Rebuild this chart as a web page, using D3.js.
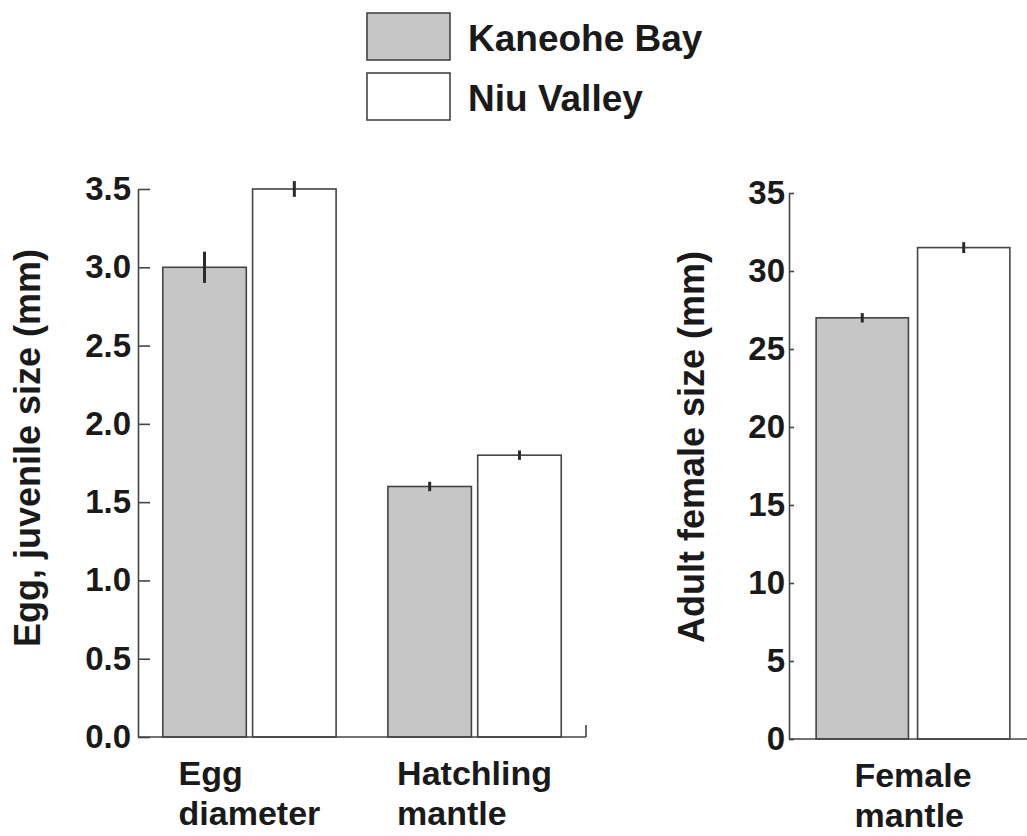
<!DOCTYPE html>
<html>
<head>
<meta charset="utf-8">
<script src="https://cdn.jsdelivr.net/npm/d3@7"></script>
<style>
  body { margin: 0; background: #fff; }
  text { font-family: "Liberation Sans", Arial, sans-serif; font-weight: bold; fill: #1a1a1a; }
</style>
</head>
<body>
<script>
// data
var sites = ["Kaneohe Bay", "Niu Valley"];
var siteFill = ["#c6c6c6", "#ffffff"];

var leftGroups = [["Egg", "diameter"], ["Hatchling", "mantle"]];
var leftKaneohe = [3.0, 1.6];
var leftNiu = [3.5, 1.8];
var leftKaneoheErr = [0.1, 0.03];
var leftNiuErr = [0.05, 0.03];
var leftTicks = [0, 0.5, 1.0, 1.5, 2.0, 2.5, 3.0, 3.5];

var rightGroups = [["Female", "mantle"]];
var rightKaneohe = [27.0];
var rightNiu = [31.5];
var rightKaneoheErr = [0.3];
var rightNiuErr = [0.35];
var rightTicks = [0, 5, 10, 15, 20, 25, 30, 35];

var W = 1027, H = 836;
var svg = d3.select("body").append("svg").attr("width", W).attr("height", H);

function rows(groups, a, b, ea, eb) {
  return groups.map(function (g, i) {
    return { name: g.join(" "), lines: g, vals: [
      { site: 0, v: a[i], e: ea[i] },
      { site: 1, v: b[i], e: eb[i] }
    ] };
  });
}

function panel(opt) {
  var g = svg.append("g");
  var y = d3.scaleLinear().domain(opt.domain).range(opt.yRange);
  var x = d3.scaleBand().domain(opt.data.map(function (d) { return d.name; }))
    .range(opt.xRange).paddingInner(opt.pi).paddingOuter(opt.po);
  var xs = d3.scaleBand().domain([0, 1]).range([0, x.bandwidth()]).paddingInner(opt.sub);

  // bars
  var grp = g.selectAll(".grp").data(opt.data).enter().append("g")
    .attr("transform", function (d) { return "translate(" + x(d.name) + ",0)"; });
  grp.selectAll("rect").data(function (d) { return d.vals; }).enter().append("rect")
    .attr("x", function (d) { return xs(d.site); })
    .attr("y", function (d) { return y(d.v); })
    .attr("width", xs.bandwidth())
    .attr("height", function (d) { return y(0) - y(d.v); })
    .attr("fill", function (d) { return siteFill[d.site]; })
    .attr("stroke", "#444").attr("stroke-width", 1.6);
  grp.selectAll("line.err").data(function (d) { return d.vals; }).enter().append("line")
    .attr("class", "err")
    .attr("x1", function (d) { return xs(d.site) + xs.bandwidth() / 2; })
    .attr("x2", function (d) { return xs(d.site) + xs.bandwidth() / 2; })
    .attr("y1", function (d) { return y(d.v + d.e); })
    .attr("y2", function (d) { return y(d.v - d.e); })
    .attr("stroke", "#2a2a2a").attr("stroke-width", 3);

  // y axis
  var ax = g.append("g").attr("transform", "translate(" + opt.xRange[0] + ",0)")
    .call(d3.axisLeft(y).tickValues(opt.ticks).tickFormat(opt.fmt)
      .tickSizeInner(-opt.tick).tickSizeOuter(0).tickPadding(opt.pad));
  ax.selectAll("path, line").attr("stroke", "#444").attr("stroke-width", 1.6);
  ax.selectAll("text").style("font-size", "33px").attr("fill", "#1a1a1a")
    .style("font-family", "'Liberation Sans', Arial, sans-serif").style("font-weight", "bold");

  // baseline
  g.append("line").attr("x1", opt.xRange[0]).attr("x2", opt.baseEnd)
    .attr("y1", y(0)).attr("y2", y(0)).attr("stroke", "#444").attr("stroke-width", 1.6);
  if (opt.endTick) {
    g.append("line").attr("x1", opt.baseEnd).attr("x2", opt.baseEnd)
      .attr("y1", y(0)).attr("y2", y(0) - 12).attr("stroke", "#444").attr("stroke-width", 1.6);
  }

  // axis title
  g.append("text")
    .attr("transform", "translate(" + opt.titleX + "," + opt.titleY + ") rotate(-90)")
    .attr("text-anchor", "middle").style("font-size", "36px").text(opt.title);

  // category labels, left-aligned block centred under the group
  opt.data.forEach(function (d) {
    var t = g.append("text").style("font-size", "34px");
    d.lines.forEach(function (s, i) {
      t.append("tspan").attr("y", y(0) + 48 + i * 40).text(s);
    });
    var w = d3.max(t.selectAll("tspan").nodes(), function (n) { return n.getComputedTextLength(); });
    var cx = x(d.name) + x.bandwidth() / 2;
    t.selectAll("tspan").attr("x", cx - w / 2);
  });
}

panel({
  data: rows(leftGroups, leftKaneohe, leftNiu, leftKaneoheErr, leftNiuErr),
  domain: [0, 3.5], yRange: [737, 189], xRange: [138, 586],
  pi: 0.23, po: 0.11, sub: 0.07, ticks: leftTicks, fmt: d3.format(".1f"),
  tick: 12, pad: 7, baseEnd: 586, endTick: true,
  title: "Egg, juvenile size (mm)", titleX: 40, titleY: 448
});

panel({
  data: rows(rightGroups, rightKaneohe, rightNiu, rightKaneoheErr, rightNiuErr),
  domain: [0, 35], yRange: [739, 193], xRange: [789, 1037],
  pi: 0, po: 0.14, sub: 0.09, ticks: rightTicks, fmt: d3.format("d"),
  tick: 5, pad: 4, baseEnd: 1040, endTick: false,
  title: "Adult female size (mm)", titleX: 704, titleY: 447
});

// legend
var legend = svg.append("g");
var legY = [13, 73];
sites.forEach(function (s, i) {
  legend.append("rect").attr("x", 367).attr("y", legY[i]).attr("width", 83).attr("height", 47)
    .attr("fill", siteFill[i]).attr("stroke", "#444").attr("stroke-width", 1.6);
  legend.append("text").attr("x", 468).attr("y", legY[i] + 38)
    .style("font-size", "37px").text(s);
});
</script>
</body>
</html>
